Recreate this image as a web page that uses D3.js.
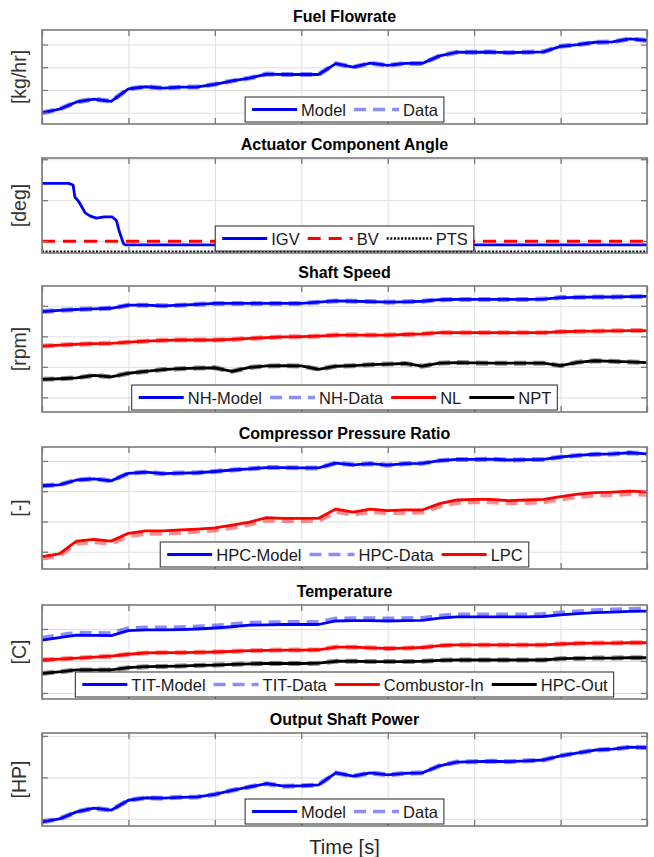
<!DOCTYPE html>
<html>
<head>
<meta charset="utf-8">
<script src="https://cdn.jsdelivr.net/npm/d3@7"></script>
<style>
body { margin: 0; background: #fff; }
svg { display: block; font-family: "Liberation Sans", Arial, sans-serif; }
</style>
</head>
<body>
<svg id="chart" width="654" height="857"></svg>
<script>

// shared time axis [s]
var time = [0, 100, 200, 300, 400, 500, 600, 700, 800, 900, 1000, 1100, 1200,
    1300, 1400, 1500, 1600, 1700, 1800, 1900, 2000, 2100, 2200, 2300, 2400,
    2500, 2600, 2700, 2800, 2900, 3000, 3100, 3200, 3300, 3400, 3500];
var timeTicks = [0, 500, 1000, 1500, 2000, 2500, 3000, 3500];

// Fuel Flowrate
var fuelRange = [0, 4.14];
var fuelTicks = [0.5, 1.5, 2.5, 3.5];
var fuelModel = [0.49, 0.65, 0.97, 1.1, 1.0, 1.55, 1.64, 1.58, 1.62, 1.63, 1.75, 1.9,
    2.02, 2.2, 2.18, 2.18, 2.18, 2.66, 2.5, 2.68, 2.58, 2.67, 2.67, 3.0, 3.16, 3.16,
    3.17, 3.14, 3.16, 3.18, 3.42, 3.5, 3.6, 3.62, 3.75, 3.68];
var fuelData = fuelModel;

// Actuator Component Angle
var angleRange = [0, 2.32];
var angleTicks = [0.29, 1.29, 2.29];
var igvTime = [0, 155, 180, 190, 215, 250, 280, 315, 360, 405, 430, 445, 470, 480, 3500];
var igvValues = [1.7, 1.7, 1.66, 1.37, 1.24, 0.98, 0.9, 0.85, 0.88, 0.88, 0.8, 0.56, 0.24, 0.2, 0.2];
var bvTime = [0, 3500];
var bvValues = [0.29, 0.29];
var ptsValues = [0.03, 0.03];

// Shaft Speed
var speedRange = [0, 4.13];
var speedTicks = [0.48, 1.48, 2.48, 3.48];
var nhModel = [3.29, 3.33, 3.36, 3.38, 3.40, 3.5, 3.5, 3.48, 3.5, 3.53, 3.56, 3.56, 3.56,
    3.56, 3.56, 3.56, 3.6, 3.64, 3.63, 3.62, 3.6, 3.61, 3.63, 3.68, 3.69, 3.69, 3.69,
    3.69, 3.69, 3.7, 3.75, 3.76, 3.77, 3.77, 3.78, 3.79];
var nhData = nhModel;
var nlValues = [2.16, 2.19, 2.22, 2.24, 2.25, 2.29, 2.32, 2.35, 2.36, 2.36, 2.36, 2.38,
    2.41, 2.44, 2.46, 2.47, 2.49, 2.52, 2.52, 2.52, 2.52, 2.54, 2.56, 2.6, 2.6, 2.6,
    2.6, 2.6, 2.6, 2.6, 2.63, 2.64, 2.65, 2.66, 2.67, 2.67];
var nptValues = [1.07, 1.09, 1.12, 1.2, 1.15, 1.27, 1.33, 1.39, 1.42, 1.44, 1.45, 1.33,
    1.46, 1.51, 1.52, 1.51, 1.4, 1.5, 1.52, 1.55, 1.57, 1.59, 1.5, 1.6, 1.62, 1.61,
    1.6, 1.6, 1.6, 1.6, 1.52, 1.63, 1.68, 1.66, 1.64, 1.62];

// Compressor Pressure Ratio
var prRange = [0, 4.03];
var prTicks = [0.57, 1.57, 2.57, 3.57];
var hpcModel = [2.75, 2.78, 2.94, 2.98, 2.91, 3.16, 3.2, 3.15, 3.17, 3.18, 3.22, 3.27,
    3.31, 3.35, 3.35, 3.34, 3.34, 3.5, 3.44, 3.48, 3.43, 3.48, 3.49, 3.58, 3.62, 3.62,
    3.63, 3.6, 3.61, 3.62, 3.7, 3.75, 3.79, 3.8, 3.84, 3.8];
var hpcData = hpcModel;
var lpcModel = [0.41, 0.5, 0.92, 0.98, 0.92, 1.18, 1.26, 1.26, 1.29, 1.32, 1.36, 1.45,
    1.55, 1.7, 1.67, 1.67, 1.68, 1.98, 1.88, 1.98, 1.93, 1.95, 1.95, 2.16, 2.28, 2.3,
    2.3, 2.26, 2.28, 2.3, 2.39, 2.47, 2.52, 2.54, 2.57, 2.55];
var lpcData = [0.36, 0.44, 0.85, 0.9, 0.85, 1.1, 1.18, 1.18, 1.21, 1.25, 1.29, 1.38,
    1.48, 1.62, 1.6, 1.6, 1.61, 1.9, 1.81, 1.9, 1.86, 1.87, 1.88, 2.08, 2.2, 2.22,
    2.22, 2.19, 2.2, 2.22, 2.31, 2.39, 2.44, 2.46, 2.49, 2.47];

// Temperature
var tempRange = [0, 2.94];
var tempTicks = [0.19, 1.19, 2.19];
var titModel = [1.84, 1.92, 2.0, 1.99, 1.98, 2.14, 2.16, 2.16, 2.17, 2.19, 2.22, 2.26,
    2.31, 2.32, 2.33, 2.33, 2.33, 2.44, 2.45, 2.45, 2.44, 2.45, 2.46, 2.53, 2.57, 2.57,
    2.57, 2.57, 2.57, 2.58, 2.63, 2.67, 2.7, 2.72, 2.74, 2.75];
var titData = [1.9, 1.98, 2.06, 2.05, 2.04, 2.2, 2.22, 2.22, 2.23, 2.25, 2.28, 2.32,
    2.37, 2.38, 2.39, 2.39, 2.39, 2.5, 2.51, 2.51, 2.5, 2.51, 2.52, 2.59, 2.63, 2.63,
    2.63, 2.63, 2.63, 2.64, 2.69, 2.73, 2.76, 2.78, 2.8, 2.81];
var combustorIn = [1.22, 1.25, 1.28, 1.31, 1.34, 1.4, 1.44, 1.45, 1.45, 1.46, 1.47, 1.49,
    1.51, 1.52, 1.53, 1.53, 1.54, 1.62, 1.62, 1.6, 1.58, 1.59, 1.61, 1.67, 1.69, 1.69,
    1.69, 1.69, 1.69, 1.69, 1.72, 1.74, 1.75, 1.75, 1.76, 1.76];
var hpcOut = [0.8, 0.85, 0.91, 0.91, 0.91, 0.98, 1.01, 1.02, 1.03, 1.05, 1.06, 1.08,
    1.1, 1.11, 1.11, 1.11, 1.12, 1.18, 1.18, 1.17, 1.17, 1.17, 1.18, 1.21, 1.22, 1.22,
    1.22, 1.22, 1.22, 1.22, 1.26, 1.27, 1.28, 1.28, 1.29, 1.29];

// Output Shaft Power
var powerRange = [0, 2.24];
var powerTicks = [0.17, 1.17, 2.17];
var powerModel = [0.1, 0.17, 0.34, 0.43, 0.38, 0.62, 0.68, 0.67, 0.69, 0.7, 0.76, 0.86,
    0.94, 1.02, 0.96, 0.97, 0.99, 1.28, 1.2, 1.28, 1.23, 1.27, 1.28, 1.45, 1.54, 1.55,
    1.56, 1.55, 1.57, 1.59, 1.69, 1.76, 1.83, 1.85, 1.9, 1.89];
var powerData = powerModel;


// line styles
var solid = function (color) {
    return { color: color, width: 2.8, dash: null, opacity: 1 };
};
var dashed = function (color) {
    return { color: color, width: 5, dash: "12,7", opacity: 0.45 };
};
var bvStyle = { color: "#ff0000", width: 3, dash: "13,8", opacity: 1 };
var ptsStyle = { color: "#000000", width: 2.5, dash: "2,1.6", opacity: 1 };


class StackedPanel {

    constructor(svg, cfg) {

        this.svg = svg;
        this.cfg = cfg;

        this.left = 42;
        this.right = 647;
        this.tickLen = 6;
        this.axisColor = "#7a7a7a";

    }

    setup() {
        this.computeScales();
        this.drawGrid();
        this.drawSeries();
        this.drawBox();
        this.drawTitle();
        this.drawLegend();
    }

    computeScales() {

        this.x = d3.scaleLinear()
            .domain([time[0], time[time.length - 1]])
            .range([this.left, this.right]);

        this.y = d3.scaleLinear()
            .domain(this.cfg.range)
            .range([this.cfg.bottom, this.cfg.top]);

    }

    drawGrid() {

        var w = this.right - this.left;
        var h = this.cfg.bottom - this.cfg.top;

        this.svg.append("rect")
            .attr("x", this.left).attr("y", this.cfg.top)
            .attr("width", w).attr("height", h)
            .attr("fill", "#ffffff");

        var gy = this.svg.append("g")
            .attr("transform", "translate(" + this.left + ",0)")
            .call(d3.axisLeft(this.y).tickValues(this.cfg.ticks).tickSize(-w).tickFormat(""));

        var gx = this.svg.append("g")
            .attr("transform", "translate(0," + this.cfg.bottom + ")")
            .call(d3.axisBottom(this.x).tickValues(timeTicks).tickSize(-h).tickFormat(""));

        [gx, gy].forEach(function (g) {
            g.select(".domain").remove();
            g.selectAll("line").attr("stroke", "#e0e0e0").attr("stroke-width", 1);
        });

    }

    drawSeries() {

        var id = "clip" + this.cfg.top;

        this.svg.append("clipPath").attr("id", id)
            .append("rect")
            .attr("x", this.left).attr("y", this.cfg.top)
            .attr("width", this.right - this.left)
            .attr("height", this.cfg.bottom - this.cfg.top);

        var layer = this.svg.append("g").attr("clip-path", "url(#" + id + ")");

        for (var idx = 0; idx < this.cfg.series.length; idx += 1) {

            var s = this.cfg.series[idx];
            var xs = s.x || time;
            var x = this.x;
            var y = this.y;

            var line = d3.line()
                .x(function (d, i) { return x(xs[i]); })
                .y(function (d) { return y(d); });

            var path = layer.append("path")
                .attr("d", line(s.values))
                .attr("fill", "none")
                .attr("stroke", s.style.color)
                .attr("stroke-width", s.style.width)
                .attr("stroke-opacity", s.style.opacity)
                .attr("stroke-linejoin", "round");

            if (s.style.dash) {
                path.attr("stroke-dasharray", s.style.dash);
            }

        }

    }

    drawBox() {

        var axes = [
            [d3.axisLeft(this.y).tickValues(this.cfg.ticks), this.left, 0],
            [d3.axisRight(this.y).tickValues(this.cfg.ticks), this.right, 0],
            [d3.axisTop(this.x).tickValues(timeTicks), 0, this.cfg.top],
            [d3.axisBottom(this.x).tickValues(timeTicks), 0, this.cfg.bottom]
        ];

        for (var idx = 0; idx < axes.length; idx += 1) {

            var g = this.svg.append("g")
                .attr("transform", "translate(" + axes[idx][1] + "," + axes[idx][2] + ")")
                .call(axes[idx][0].tickSize(-this.tickLen).tickSizeOuter(0).tickFormat(""));

            g.select(".domain").remove();
            g.selectAll("line").attr("stroke", this.axisColor).attr("stroke-width", 1.3);

        }

        this.svg.append("rect")
            .attr("x", this.left).attr("y", this.cfg.top)
            .attr("width", this.right - this.left)
            .attr("height", this.cfg.bottom - this.cfg.top)
            .attr("fill", "none")
            .attr("stroke", this.axisColor)
            .attr("stroke-width", 1.6);

    }

    drawTitle() {

        var cx = (this.left + this.right) / 2;
        var cy = (this.cfg.top + this.cfg.bottom) / 2;

        this.svg.append("text")
            .attr("x", cx)
            .attr("y", this.cfg.top - 8)
            .attr("text-anchor", "middle")
            .attr("font-size", "16px")
            .attr("font-weight", "bold")
            .attr("fill", "#000")
            .text(this.cfg.title);

        this.svg.append("text")
            .attr("transform", "translate(26," + cy + ") rotate(-90)")
            .attr("text-anchor", "middle")
            .attr("font-size", "19.5px")
            .attr("fill", "#333333")
            .text(this.cfg.ylabel);

    }

    drawLegend() {

        var entries = this.cfg.legend;
        var g = this.svg.append("g");
        var box = g.append("rect");

        var height = 25;
        var bottom = this.cfg.bottom - 2;
        var mid = bottom - height / 2;
        var sample = 45;
        var pos = 7;

        for (var idx = 0; idx < entries.length; idx += 1) {

            var st = entries[idx].style;

            var seg = g.append("line")
                .attr("x1", pos).attr("x2", pos + sample)
                .attr("y1", mid).attr("y2", mid)
                .attr("stroke", st.color)
                .attr("stroke-width", Math.min(st.width, 3.5))
                .attr("stroke-opacity", st.opacity);

            if (st.dash) {
                seg.attr("stroke-dasharray", st.dash);
            }

            var text = g.append("text")
                .attr("x", pos + sample + 4)
                .attr("y", mid + 6)
                .attr("font-size", "16.5px")
                .attr("fill", "#1a1a1a")
                .text(entries[idx].label);

            pos += sample + 4 + text.node().getComputedTextLength() + 8;

        }

        var width = pos - 8 + 6;

        box.attr("x", 0).attr("y", bottom - height)
            .attr("width", width).attr("height", height)
            .attr("fill", "#ffffff")
            .attr("stroke", "#262626")
            .attr("stroke-width", 1);

        var offset = (this.left + this.right) / 2 - width / 2;
        g.attr("transform", "translate(" + offset + ",0)");

    }

}


var svg = d3.select("#chart");

var panels = [
    {
        title: "Fuel Flowrate", ylabel: "[kg/hr]", top: 30, bottom: 124,
        range: fuelRange, ticks: fuelTicks,
        series: [
            { values: fuelModel, style: solid("#0000ff") },
            { values: fuelData, style: dashed("#0000ff") }
        ],
        legend: [
            { label: "Model", style: solid("#0000ff") },
            { label: "Data", style: dashed("#0000ff") }
        ]
    },
    {
        title: "Actuator Component Angle", ylabel: "[deg]", top: 158, bottom: 253,
        range: angleRange, ticks: angleTicks,
        series: [
            { x: bvTime, values: ptsValues, style: ptsStyle },
            { x: bvTime, values: bvValues, style: bvStyle },
            { x: igvTime, values: igvValues, style: solid("#0000ff") }
        ],
        legend: [
            { label: "IGV", style: solid("#0000ff") },
            { label: "BV", style: bvStyle },
            { label: "PTS", style: ptsStyle }
        ]
    },
    {
        title: "Shaft Speed", ylabel: "[rpm]", top: 286, bottom: 412,
        range: speedRange, ticks: speedTicks,
        series: [
            { values: nhModel, style: solid("#0000ff") },
            { values: nhData, style: dashed("#0000ff") },
            { values: nlValues, style: solid("#ff0000") },
            { values: nlValues, style: dashed("#ff0000") },
            { values: nptValues, style: solid("#000000") },
            { values: nptValues, style: dashed("#000000") }
        ],
        legend: [
            { label: "NH-Model", style: solid("#0000ff") },
            { label: "NH-Data", style: dashed("#0000ff") },
            { label: "NL", style: solid("#ff0000") },
            { label: "NPT", style: solid("#000000") }
        ]
    },
    {
        title: "Compressor Pressure Ratio", ylabel: "[-]", top: 447, bottom: 569,
        range: prRange, ticks: prTicks,
        series: [
            { values: hpcModel, style: solid("#0000ff") },
            { values: hpcData, style: dashed("#0000ff") },
            { values: lpcModel, style: solid("#ff0000") },
            { values: lpcData, style: dashed("#ff0000") }
        ],
        legend: [
            { label: "HPC-Model", style: solid("#0000ff") },
            { label: "HPC-Data", style: dashed("#0000ff") },
            { label: "LPC", style: solid("#ff0000") }
        ]
    },
    {
        title: "Temperature", ylabel: "[C]", top: 605, bottom: 699,
        range: tempRange, ticks: tempTicks,
        series: [
            { values: titModel, style: solid("#0000ff") },
            { values: titData, style: dashed("#0000ff") },
            { values: combustorIn, style: solid("#ff0000") },
            { values: combustorIn, style: dashed("#ff0000") },
            { values: hpcOut, style: solid("#000000") },
            { values: hpcOut, style: dashed("#000000") }
        ],
        legend: [
            { label: "TIT-Model", style: solid("#0000ff") },
            { label: "TIT-Data", style: dashed("#0000ff") },
            { label: "Combustor-In", style: solid("#ff0000") },
            { label: "HPC-Out", style: solid("#000000") }
        ]
    },
    {
        title: "Output Shaft Power", ylabel: "[HP]", top: 733, bottom: 826,
        range: powerRange, ticks: powerTicks,
        series: [
            { values: powerModel, style: solid("#0000ff") },
            { values: powerData, style: dashed("#0000ff") }
        ],
        legend: [
            { label: "Model", style: solid("#0000ff") },
            { label: "Data", style: dashed("#0000ff") }
        ]
    }
];

for (var p = 0; p < panels.length; p += 1) {
    new StackedPanel(svg, panels[p]).setup();
}

svg.append("text")
    .attr("x", (42 + 647) / 2)
    .attr("y", 854)
    .attr("text-anchor", "middle")
    .attr("font-size", "20px")
    .attr("fill", "#262626")
    .text("Time [s]");

</script>
</body>
</html>
